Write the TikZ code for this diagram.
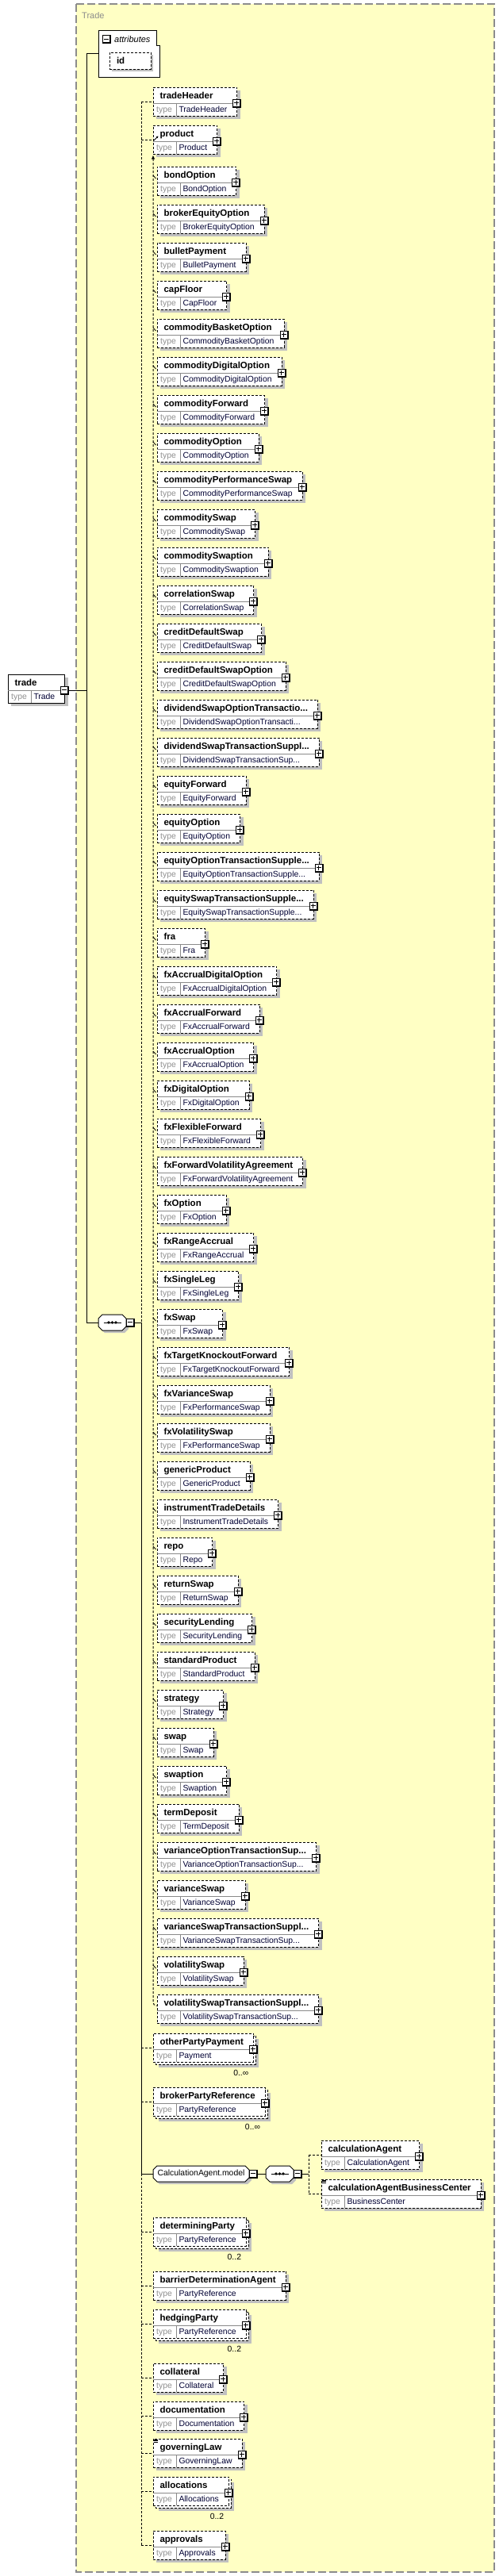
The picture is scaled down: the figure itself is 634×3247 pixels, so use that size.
\documentclass[tikz,border=0pt]{standalone}
\usepackage{fontspec}
\newfontfamily\lsans{Liberation Sans}
\usetikzlibrary{arrows.meta}
\definecolor{frameyellow}{HTML}{FFFFC4}
\definecolor{shd}{HTML}{C0C0C0}
\definecolor{framegray}{HTML}{8C8C8C}
\definecolor{typegray}{HTML}{909090}
\definecolor{divgray}{HTML}{8A8A8A}
\definecolor{typeblue}{HTML}{000033}
\newcommand\namefont{\lsans\bfseries\fontsize{11.5}{13}\selectfont}
\newcommand\typefont{\lsans\fontsize{10.4}{12}\selectfont}
\newcommand\ddd{...}
\tikzset{
  opt/.style={draw=black, line width=1pt, dash pattern=on 3pt off 2pt},
  req/.style={draw=black, line width=1pt},
  dsh/.style={line width=1pt, dash pattern=on 3pt off 2pt},
  sld/.style={line width=1pt},
  elemnode/.style={fill=white, inner sep=0pt, outer sep=0pt, anchor=north west},
  nametext/.style={font=\namefont, inner sep=0pt, outer sep=0pt, anchor=base west},
  typelabel/.style={font=\typefont, text=typegray, inner sep=0pt, anchor=base west},
  typetext/.style={font=\typefont, text=typeblue, inner sep=0pt, outer sep=0pt, anchor=base west},
  divider/.style={draw=divgray, line width=0.8pt},
  occ/.style={font=\typefont, inner sep=0pt, anchor=base east},
  blank/.style={inner sep=0pt, outer sep=0pt},
}
% plus / minus box: #1 name, #2 position, #3 1=plus 0=minus
\newcommand\pmbox[3]{%
  \node[blank, minimum size=11pt] (#1) at (#2) {};
  \fill[black] (#1.north west) rectangle (#1.south east);
  \fill[white] ([shift={(1pt,-1pt)}]#1.north west) rectangle ([shift={(-2pt,2pt)}]#1.south east);
  \draw[line width=1pt] ([shift={(-3.5pt,0.5pt)}]#1.center) -- ([shift={(2.5pt,0.5pt)}]#1.center);
  \ifnum#3=1 \draw[line width=1pt] ([shift={(-0.5pt,-2.5pt)}]#1.center) -- ([shift={(-0.5pt,3.5pt)}]#1.center);\fi
}
% element: #1 name #2 x #3 top #4 label #5 type #6 border style #7 occurrence #8 plus(1)/minus(0)
\newcommand\xelem[8]{%
  \node[nametext] (#1-nm) at (#2,#3) {\phantom{#4}};
  \node[typetext] (#1-tm) at (#2,#3) {\phantom{#5}};
  \pgfpointdiff{\pgfpointanchor{#1-nm}{west}}{\pgfpointanchor{#1-nm}{east}}\pgfgetlastxy{\wnx}{\wny}%
  \pgfpointdiff{\pgfpointanchor{#1-tm}{west}}{\pgfpointanchor{#1-tm}{east}}\pgfgetlastxy{\wtx}{\wty}%
  \pgfmathsetmacro\bw{max(\wnx+21,\wtx+45)}%
  \if\relax\detokenize{#7}\relax
    \fill[shd] (#2+4,#3+4) rectangle ++(\bw,36);
  \else
    \fill[shd] (#2+7,#3+7) rectangle ++(\bw,36);
    \draw[#6,fill=white] (#2+3,#3+3) rectangle ++(\bw,36);
  \fi
  \node[elemnode,#6,minimum width=\bw pt,minimum height=36pt] (#1) at (#2,#3) {};
  \draw[divider] ([yshift=-20pt]#1.north west) -- ([yshift=-20pt]#1.north east);
  \draw[divider] ([shift={(29pt,-20pt)}]#1.north west) -- ([xshift=29pt]#1.south west);
  \node[nametext] at ([shift={(8.5pt,-14pt)}]#1.north west) {#4};
  \node[typelabel] at ([shift={(4pt,-31pt)}]#1.north west) {type};
  \node[typetext] at ([shift={(32.5pt,-31pt)}]#1.north west) {#5};
  \pmbox{#1-pm}{[yshift=-20pt]#1.north east}{#8}
  \if\relax\detokenize{#7}\relax\else
    \node[occ] at ([shift={(-6pt,-17pt)}]#1.south east) {#7};
  \fi
}
% octagon outline: #1 node #2 offset #3 path options
\newcommand\octofill[3]{%
  \path[#3] ([shift={(#2)},xshift=5pt]#1.north west) -- ([shift={(#2)},xshift=-5pt]#1.north east)
    -- ([shift={(#2)},yshift=-5pt]#1.north east) -- ([shift={(#2)},yshift=5pt]#1.south east)
    -- ([shift={(#2)},xshift=-5pt]#1.south east) -- ([shift={(#2)},xshift=5pt]#1.south west)
    -- ([shift={(#2)},yshift=5pt]#1.south west) -- ([shift={(#2)},yshift=-5pt]#1.north west) -- cycle;
}
\newcommand\octo[3]{%
  \node[blank, minimum width=#3, minimum height=20pt] (#1) at (#2) {};
  \octofill{#1}{3pt,-3pt}{fill=shd}
  \octofill{#1}{0pt,0pt}{draw=black,line width=1pt,fill=white}
}
\newcommand\seqdots[1]{%
  \draw[line width=1pt] ([xshift=-11pt]#1.center) -- ([xshift=11pt]#1.center);
  \foreach \dx in {-4.5,0,4.5} \fill ([xshift=\dx pt]#1.center) circle (1.8pt);
}
\newcommand\eqicon[1]{%
  \foreach \k in {1,2.5,4} \draw[line width=0.7pt] ([shift={(1pt,-\k pt)}]#1.north west) -- ++(5,0);
}
\begin{document}
\begin{tikzpicture}[x=1pt,y=-1pt]
\useasboundingbox (0,0) rectangle (634,3247);
% frame of the complex type
\fill[frameyellow] (96,5) rectangle (623,3242);
\draw[framegray, line width=1.3pt, dash pattern=on 10pt off 4pt] (96,5) rectangle (623,3242);
\node[font=\lsans\fontsize{11}{13}\selectfont, text=framegray, inner sep=0pt, anchor=base west] (title) at (103,23) {Trade};

% root element
\xelem{trade}{10}{850}{trade}{Trade}{req}{}{0}

% attributes
\node[blank, minimum width=77pt, minimum height=59pt, anchor=north west] (attrs) at (124,38) {};
\draw[line width=1pt, fill=white] (attrs.north west) -- ([xshift=-4pt]attrs.north east)
  -- ([shift={(-4pt,-19pt)}]attrs.north east) -- ([yshift=-19pt]attrs.north east)
  -- (attrs.south east) -- (attrs.south west) -- cycle;
\pmbox{attrm}{134.5,49.5}{0}
\node[font=\lsans\itshape\fontsize{11}{13}\selectfont, inner sep=0pt, anchor=base west] (attrlbl) at (144,53) {attributes};
\fill[shd] (141,69) rectangle (193,90);
\node[elemnode, opt, minimum width=52pt, minimum height=21pt] (id) at (138,66) {};
\node[nametext] (idlbl) at (147,80) {id};

% sequence compositor
\octo{seq}{141.5,1667}{35pt}
\seqdots{seq}
\pmbox{seqm}{[xshift=5.5pt]seq.east}{0}

% sequence children
\xelem{tradeHeader}{193}{110}{tradeHeader}{TradeHeader}{opt}{}{1}
\xelem{product}{193}{158}{product}{Product}{opt}{}{1}

\foreach \nm/\ty [count=\i] in {
bondOption/BondOption,
brokerEquityOption/BrokerEquityOption,
bulletPayment/BulletPayment,
capFloor/CapFloor,
commodityBasketOption/CommodityBasketOption,
commodityDigitalOption/CommodityDigitalOption,
commodityForward/CommodityForward,
commodityOption/CommodityOption,
commodityPerformanceSwap/CommodityPerformanceSwap,
commoditySwap/CommoditySwap,
commoditySwaption/CommoditySwaption,
correlationSwap/CorrelationSwap,
creditDefaultSwap/CreditDefaultSwap,
creditDefaultSwapOption/CreditDefaultSwapOption,
dividendSwapOptionTransactio\ddd/DividendSwapOptionTransacti\ddd,
dividendSwapTransactionSuppl\ddd/DividendSwapTransactionSup\ddd,
equityForward/EquityForward,
equityOption/EquityOption,
equityOptionTransactionSupple\ddd/EquityOptionTransactionSupple\ddd,
equitySwapTransactionSupple\ddd/EquitySwapTransactionSupple\ddd,
fra/Fra,
fxAccrualDigitalOption/FxAccrualDigitalOption,
fxAccrualForward/FxAccrualForward,
fxAccrualOption/FxAccrualOption,
fxDigitalOption/FxDigitalOption,
fxFlexibleForward/FxFlexibleForward,
fxForwardVolatilityAgreement/FxForwardVolatilityAgreement,
fxOption/FxOption,
fxRangeAccrual/FxRangeAccrual,
fxSingleLeg/FxSingleLeg,
fxSwap/FxSwap,
fxTargetKnockoutForward/FxTargetKnockoutForward,
fxVarianceSwap/FxPerformanceSwap,
fxVolatilitySwap/FxPerformanceSwap,
genericProduct/GenericProduct,
instrumentTradeDetails/InstrumentTradeDetails,
repo/Repo,
returnSwap/ReturnSwap,
securityLending/SecurityLending,
standardProduct/StandardProduct,
strategy/Strategy,
swap/Swap,
swaption/Swaption,
termDeposit/TermDeposit,
varianceOptionTransactionSup\ddd/VarianceOptionTransactionSup\ddd,
varianceSwap/VarianceSwap,
varianceSwapTransactionSuppl\ddd/VarianceSwapTransactionSup\ddd,
volatilitySwap/VolatilitySwap,
volatilitySwapTransactionSuppl\ddd/VolatilitySwapTransactionSup\ddd}{
  \pgfmathtruncatemacro\yy{210+48*(\i-1)}
  \xelem{s\i}{198}{\yy}{\nm}{\ty}{opt}{}{1}
  \ifnum\i<49
    \draw[line width=0.8pt] ([shift={(-5pt,7pt)}]s\i.west) -- ([shift={(-1.5pt,3pt)}]s\i.west);
  \fi
}

\xelem{otherPartyPayment}{193}{2563}{otherPartyPayment}{Payment}{opt}{0..∞}{1}
\xelem{brokerPartyReference}{193}{2631}{brokerPartyReference}{PartyReference}{opt}{0..∞}{1}

% CalculationAgent.model group
\octo{model}{253.5,2740}{121pt}
\node[font=\typefont, inner sep=0pt] (modellbl) at (model.center) {CalculationAgent.model};
\pmbox{modelm}{[xshift=5.5pt]model.east}{0}
\octo{cseq}{352.5,2740}{35pt}
\seqdots{cseq}
\pmbox{cseqm}{[xshift=5.5pt]cseq.east}{0}
\xelem{calculationAgent}{405}{2698}{calculationAgent}{CalculationAgent}{opt}{}{1}
\xelem{calculationAgentBusinessCenter}{405}{2747}{calculationAgentBusinessCenter}{BusinessCenter}{opt}{}{1}
\eqicon{calculationAgentBusinessCenter}

\xelem{determiningParty}{193}{2795}{determiningParty}{PartyReference}{opt}{0..2}{1}
\xelem{barrierDeterminationAgent}{193}{2863}{barrierDeterminationAgent}{PartyReference}{opt}{}{1}
\xelem{hedgingParty}{193}{2911}{hedgingParty}{PartyReference}{opt}{0..2}{1}
\xelem{collateral}{193}{2979}{collateral}{Collateral}{opt}{}{1}
\xelem{documentation}{193}{3027}{documentation}{Documentation}{opt}{}{1}
\xelem{governingLaw}{193}{3074}{governingLaw}{GoverningLaw}{opt}{}{1}
\eqicon{governingLaw}
\xelem{allocations}{193}{3122}{allocations}{Allocations}{opt}{0..2}{1}
\xelem{approvals}{193}{3190}{approvals}{Approvals}{opt}{}{1}

% spines
\coordinate (ax) at (109,0);
\coordinate (sx) at (178,0);
\coordinate (sx2) at (389,0);

\draw[sld] (trade-pm.east) -- (trade-pm.east -| ax);
\draw[sld] (attrs.west -| ax) -- (seq.west -| ax);
\draw[sld] (attrs.west -| ax) -- (attrs.west);
\draw[sld] (seq.west -| ax) -- (seq.west);
\draw[sld] (seqm.east) -- (seqm.east -| sx);

\draw[dsh] (tradeHeader.west -| sx) -- (seqm.east -| sx);
\draw[sld] (seqm.east -| sx) -- (model.west -| sx);
\draw[dsh] (model.west -| sx) -- (approvals.west -| sx);
\draw[sld] (model.west -| sx) -- (model.west);
\foreach \e in {tradeHeader,product,otherPartyPayment,brokerPartyReference,determiningParty,barrierDeterminationAgent,hedgingParty,collateral,documentation,governingLaw,allocations,approvals}
  \draw[dsh] (\e.west -| sx) -- (\e.west);

% product substitution group
\draw[-{Triangle[length=2.5pt,width=2.5pt]}, line width=0.8pt] ([shift={(1pt,-1pt)}]product.west) -- ([shift={(6.5pt,4.5pt)}]product.west);
\fill ([shift={(-2pt,-6.5pt)}]product.south west) -- ([shift={(2pt,-6.5pt)}]product.south west) -- ([shift={(0pt,-2pt)}]product.south west) -- cycle;
\coordinate (lastin) at ([yshift=4pt]s49.west);
\draw[dsh, rounded corners=4pt] ([yshift=-6pt]product.south west) -- (lastin -| product.south west) -- (lastin);

% model group connectors
\draw[sld] (modelm.east) -- (cseq.west);
\draw[sld] (cseqm.east) -- (cseqm.east -| sx2);
\draw[dsh] (calculationAgent.west -| sx2) -- (calculationAgentBusinessCenter.west -| sx2);
\draw[dsh] (calculationAgent.west -| sx2) -- (calculationAgent.west);
\draw[dsh] (calculationAgentBusinessCenter.west -| sx2) -- (calculationAgentBusinessCenter.west);
\end{tikzpicture}
\end{document}
